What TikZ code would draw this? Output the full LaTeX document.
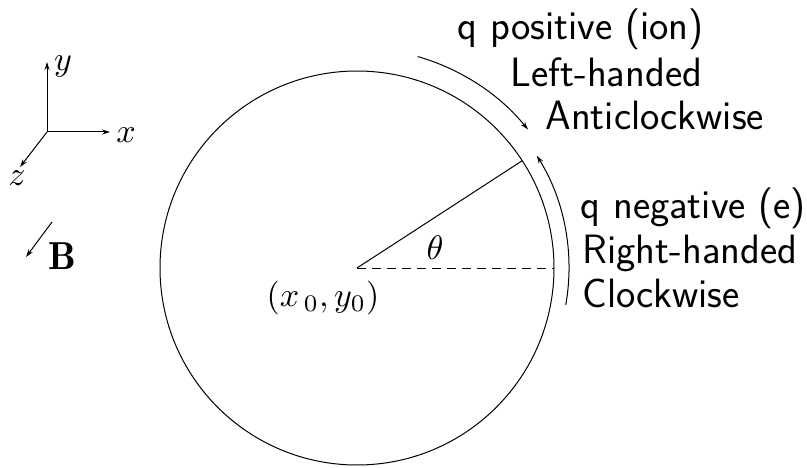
\documentclass[tikz,border=0pt]{standalone}
\usepackage{fontspec}
\usetikzlibrary{arrows.meta}
\begin{document}
\begin{tikzpicture}[x=1pt,y=1pt,line width=1pt,
  lbl/.style={font=\sffamily\fontsize{41}{46}\selectfont, anchor=base west, inner sep=0pt},
  mth/.style={inner sep=0pt, scale=3.4},
  axl/.style={inner sep=0pt, scale=3.4},
  tip/.style={-{Stealth[length=8pt,width=5pt]}}]
\useasboundingbox (0,0) rectangle (807,467);
% axes
\coordinate (O) at (47,335);
\coordinate (Ytip) at (47,405);
\coordinate (Xtip) at (110,335);
\coordinate (Ztip) at (20,300);
\draw[tip] (O) -- (Ytip);
\draw[tip] (O) -- (Xtip);
\draw[tip] (O) -- (Ztip);
\node[axl] (ylab) at (63,401) {$y$};
\node[axl] (xlab) at (126,332) {$x$};
\node[axl] (zlab) at (17,289) {$z$};
% B
\coordinate (Bs) at (52,245);
\coordinate (Be) at (26,210);
\draw[tip] (Bs) -- (Be);
\node[inner sep=0pt, scale=3.9] (B) at (62,211) {$\mathbf{B}$};
% circle
\coordinate (C) at (357,199);
\draw (C) circle (197);
\coordinate (P) at ([shift={(33:197)}]C);
\coordinate (R) at ([shift={(0:197)}]C);
\draw (C) -- (P);
\draw[dash pattern=on 9pt off 6pt] (C) -- (R);
\node[mth] (th) at (435,219) {$\theta$};
\node[mth] (cen) at (323,169) {$(x_{\,0}, y_0)$};
% arcs
\coordinate (A1) at ([shift={(74:220)}]C);
\coordinate (A2) at ([shift={(-10:212)}]C);
\draw[tip] (A1) arc[start angle=74, end angle=39, radius=220];
\draw[tip] (A2) arc[start angle=-10, end angle=32, radius=212];
% labels
\node[lbl] (t1) at (457,427) {q positive (ion)};
\node[lbl] (t2) at (510,380) {Left-handed};
\node[lbl] (t3) at (545,337) {Anticlockwise};
\node[lbl] (t4) at (580,248) {q negative (e)};
\node[lbl] (t5) at (582,204) {Right-handed};
\node[lbl] (t6) at (582,160) {Clockwise};
\end{tikzpicture}
\end{document}
